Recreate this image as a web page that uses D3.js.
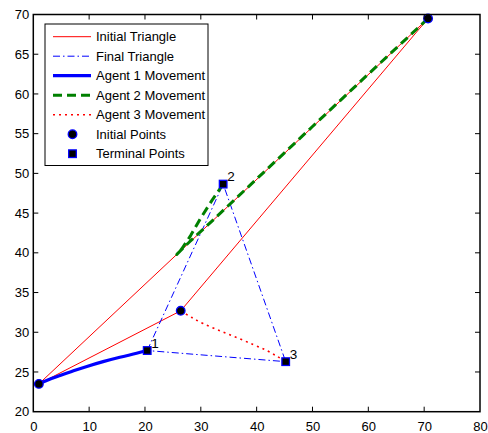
<!DOCTYPE html>
<html>
<head>
<meta charset="utf-8">
<script src="https://cdn.jsdelivr.net/npm/d3@7"></script>
<style>
  html, body { margin: 0; padding: 0; background: #fff; }
  svg { display: block; }
  text { font-family: "Liberation Sans", Arial, Helvetica, sans-serif; fill: #000; }
</style>
</head>
<body>
<svg id="chart" width="488" height="433"></svg>
<script>
// ---------------- data ----------------
const agentIds = ["1", "2", "3"];
const initialX = [1.0, 70.7, 26.4];
const initialY = [23.5, 69.5, 32.7];
const terminalX = [20.4, 34.0, 45.2];
const terminalY = [27.7, 48.65, 26.3];

const agent1X = [1.0, 2.5, 4.8, 7.2, 9.6, 12.5, 15.5, 18.5, 20.4];
const agent1Y = [23.5, 23.95, 24.55, 25.15, 25.7, 26.3, 26.85, 27.35, 27.7];

const agent2X = [70.7, 60, 50, 40, 32, 28, 25.7, 26.6, 28.2, 30, 32, 34.0];
const agent2Y = [69.5, 62.5, 55.9, 49.3, 44.0, 41.4, 39.8, 40.5, 42.2, 44.4, 46.6, 48.65];

const agent3X = [26.4, 28.4, 30.4, 33.4, 36.4, 39.4, 41.8, 43.6, 45.2];
const agent3Y = [32.7, 31.85, 31.1, 30.2, 29.35, 28.45, 27.7, 27.0, 26.3];

const xTicks = [0, 10, 20, 30, 40, 50, 60, 70, 80];
const yTicks = [20, 25, 30, 35, 40, 45, 50, 55, 60, 65, 70];

const legendLabels = ["Initial Triangle", "Final Triangle", "Agent 1 Movement",
  "Agent 2 Movement", "Agent 3 Movement", "Initial Points", "Terminal Points"];

// ---------------- layout ----------------
const svg = d3.select("#chart");
const x = d3.scaleLinear().domain([0, 80]).range([33.3, 480]);
const y = d3.scaleLinear().domain([20, 70]).range([411.7, 14.5]);

const RED = "#ff0000", BLUE = "#0000ff", GREEN = "#008000";
const styles = {
  initTri: { stroke: RED, width: 1, dash: null },
  finalTri: { stroke: BLUE, width: 1, dash: "7,3,1.5,3" },
  a1: { stroke: BLUE, width: 3.2, dash: null },
  a2: { stroke: GREEN, width: 3, dash: "9,5" },
  a3: { stroke: RED, width: 1.6, dash: "2,4" }
};

const zip = (xs, ys) => xs.map((v, i) => [v, ys[i]]);
const line = d3.line().x(d => x(d[0])).y(d => y(d[1]));
const smooth = d3.line().x(d => x(d[0])).y(d => y(d[1])).curve(d3.curveCatmullRom);

function drawPath(pts, st, gen) {
  const p = svg.append("path")
    .attr("d", (gen || line)(pts))
    .attr("fill", "none")
    .attr("stroke", st.stroke)
    .attr("stroke-width", st.width)
    .attr("stroke-linejoin", "round");
  if (st.dash) p.attr("stroke-dasharray", st.dash);
  return p;
}

// triangles
const initPts = zip(initialX, initialY);
const termPts = zip(terminalX, terminalY);
drawPath([...initPts, initPts[0]], styles.initTri);
drawPath([...termPts, termPts[0]], styles.finalTri);

// agent movements
drawPath(zip(agent1X, agent1Y), styles.a1, smooth).attr("stroke-linecap", "round");
drawPath(zip(agent2X, agent2Y), styles.a2);
drawPath(zip(agent3X, agent3Y), styles.a3, smooth);

// markers
function circleMarker(g, cx, cy) {
  g.append("circle").attr("cx", cx).attr("cy", cy).attr("r", 4.3)
    .attr("fill", "#000").attr("stroke", BLUE).attr("stroke-width", 1.3);
}
function squareMarker(g, cx, cy) {
  g.append("rect").attr("x", cx - 3.8).attr("y", cy - 3.8)
    .attr("width", 7.6).attr("height", 7.6)
    .attr("fill", "#000").attr("stroke", BLUE).attr("stroke-width", 1.3);
}
initPts.forEach(d => circleMarker(svg, x(d[0]), y(d[1])));
termPts.forEach(d => squareMarker(svg, x(d[0]), y(d[1])));

// agent labels
svg.selectAll("text.agent").data(agentIds).enter().append("text")
  .attr("class", "agent")
  .attr("x", (d, i) => x(terminalX[i]) + 4)
  .attr("y", (d, i) => y(terminalY[i]) - 3)
  .attr("font-size", 13.5)
  .text(d => d);

// ---------------- axes ----------------
const frame = svg.append("g");
frame.append("rect")
  .attr("x", x(0)).attr("y", y(70))
  .attr("width", x(80) - x(0)).attr("height", y(20) - y(70))
  .attr("fill", "none").attr("stroke", "#000").attr("stroke-width", 1.5);

const xAxis = d3.axisBottom(x).tickValues(xTicks).tickSize(0).tickPadding(10).tickFormat(d3.format("d"));
const yAxis = d3.axisLeft(y).tickValues(yTicks).tickSize(0).tickPadding(4).tickFormat(d3.format("d"));

const gx = svg.append("g").attr("transform", `translate(0,${y(20)})`).call(xAxis);
const gy = svg.append("g").attr("transform", `translate(${x(0)},0)`).call(yAxis);
[gx, gy].forEach(g => {
  g.select(".domain").remove();
  g.selectAll("text").attr("font-size", 13).attr("font-family", "Liberation Sans, Arial, sans-serif").attr("fill", "#000");
});

// inward ticks on all sides
const TL = 5;
xTicks.slice(1, -1).forEach(t => {
  frame.append("line").attr("x1", x(t)).attr("x2", x(t)).attr("y1", y(20)).attr("y2", y(20) - TL).attr("stroke", "#000");
  frame.append("line").attr("x1", x(t)).attr("x2", x(t)).attr("y1", y(70)).attr("y2", y(70) + TL).attr("stroke", "#000");
});
yTicks.slice(1, -1).forEach(t => {
  frame.append("line").attr("x1", x(0)).attr("x2", x(0) + TL).attr("y1", y(t)).attr("y2", y(t)).attr("stroke", "#000");
  frame.append("line").attr("x1", x(80)).attr("x2", x(80) - TL).attr("y1", y(t)).attr("y2", y(t)).attr("stroke", "#000");
});

// ---------------- legend ----------------
const lg = svg.append("g");
lg.append("rect").attr("x", 45).attr("y", 24).attr("width", 163).attr("height", 141.5)
  .attr("fill", "#fff").attr("stroke", "#000").attr("stroke-width", 1);
const legendStyles = [styles.initTri, styles.finalTri, styles.a1, styles.a2, styles.a3];
legendLabels.forEach((lab, i) => {
  const cy = 36.7 + i * 19.5;
  if (i < 5) {
    const st = legendStyles[i];
    const l = lg.append("line").attr("x1", 53).attr("x2", 91).attr("y1", cy).attr("y2", cy)
      .attr("stroke", st.stroke).attr("stroke-width", st.width);
    if (st.dash) l.attr("stroke-dasharray", st.dash);
  } else if (i === 5) {
    circleMarker(lg, 72.5, cy);
  } else {
    squareMarker(lg, 72.5, cy);
  }
  lg.append("text").attr("x", 96).attr("y", cy).attr("dy", "0.36em")
    .attr("font-size", 13).text(lab);
});
</script>
</body>
</html>
